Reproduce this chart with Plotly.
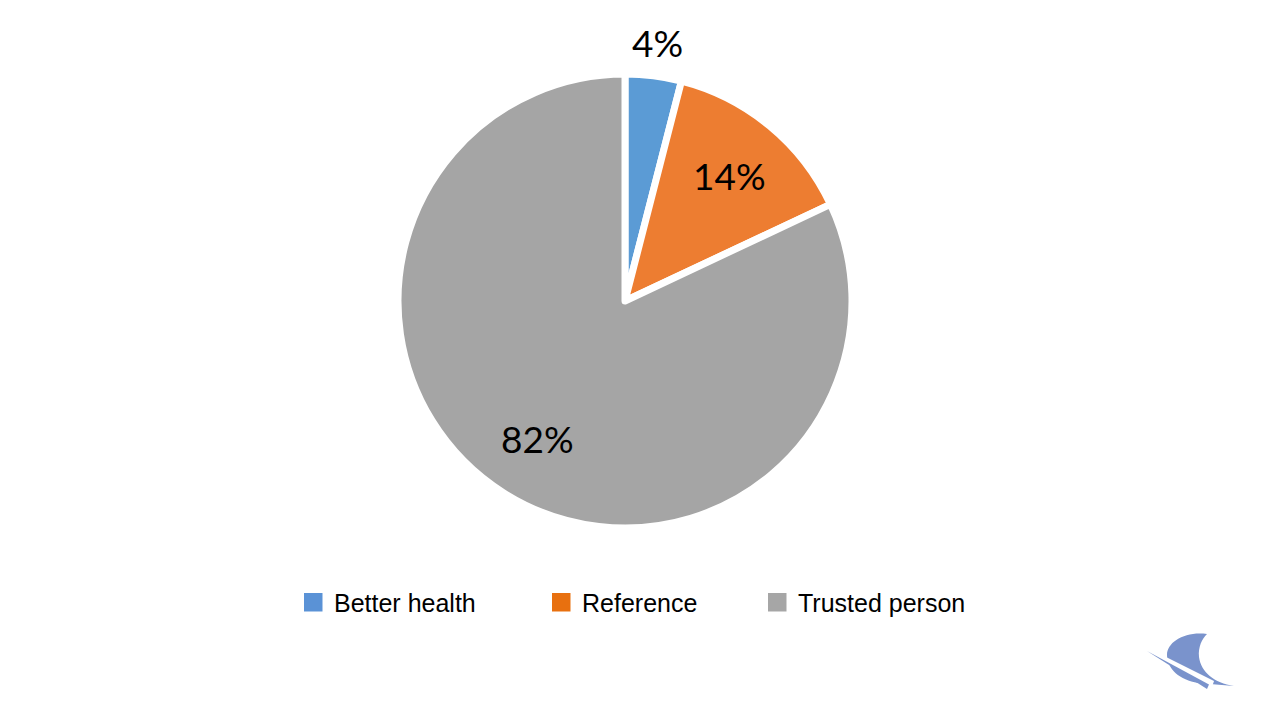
import math
import plotly.graph_objects as go

# ---- data ----
categories = ["Better health", "Reference", "Trusted person"]
values = [4, 14, 82]
slice_colors = ["#5B9BD5", "#ED7D31", "#A5A5A5"]
legend_colors = ["#5A92D6", "#E8700F", "#A6A6A6"]
label_inside = [False, True, True]

W, H = 1280, 720


def paper(x, y):
    return x / W, 1 - y / H


def path_from(cmds):
    out = []
    for c in cmds:
        if isinstance(c, str):
            out.append(c)
        else:
            px_, py_ = paper(*c)
            out.append(f"{px_:.5f},{py_:.5f}")
    return " ".join(out)


cx, cy, r = 625, 301, 227
fig = go.Figure(
    go.Pie(
        labels=categories,
        values=values,
        sort=False,
        direction="clockwise",
        rotation=0,
        marker=dict(colors=slice_colors, line=dict(color="white", width=7)),
        textinfo="none",
        domain=dict(x=[(cx - r) / W, (cx + r) / W],
                    y=[(H - cy - r) / H, (H - cy + r) / H]),
        showlegend=False,
        hoverinfo="label+percent",
    )
)

shapes = []
annotations = []

# percentage labels, placed at each slice's mid-angle
total = sum(values)
cum = 0.0
for v, inside in zip(values, label_inside):
    mid = (cum + v / 2) / total * 2 * math.pi
    cum += v
    rr = r * (0.72 if inside else 1.15)
    lx = cx + rr * math.sin(mid)
    ly = cy - rr * math.cos(mid)
    ax, ay = paper(lx, ly)
    annotations.append(dict(text=f"{round(100 * v / total)}%", xref="paper", yref="paper",
                            x=ax, y=ay, xanchor="center", yanchor="middle", showarrow=False,
                            font=dict(family="Lato", size=37, color="black")))

# custom legend
sq_x = [304, 552, 768]
for i, cat in enumerate(categories):
    x0, y0 = paper(sq_x[i], 593)
    x1, y1 = paper(sq_x[i] + 18.5, 611.5)
    shapes.append(dict(type="rect", xref="paper", yref="paper", x0=x0, x1=x1,
                       y0=y1, y1=y0, fillcolor=legend_colors[i], line=dict(width=0)))
    tx, ty = paper(sq_x[i] + 28, 603)
    annotations.append(dict(text=cat, xref="paper", yref="paper", x=tx, y=ty,
                            xanchor="left", yanchor="middle", showarrow=False,
                            font=dict(family="Liberation Sans", size=25, color="black")))

# logo
logo_col = "#7A93CC"
crescent = path_from(["M", (1207, 634), "C", (1185, 631), (1167, 642), (1167, 655),
                      "C", (1167, 669), (1180, 680), (1198, 683),
                      "L", (1234, 686),
                      "C", (1214, 683), (1201, 672), (1199, 657),
                      "C", (1198, 647), (1202, 639), (1207, 634), "Z"])
shapes.append(dict(type="path", xref="paper", yref="paper", path=crescent,
                   fillcolor=logo_col, line=dict(width=0)))
gap = path_from(["M", (1144, 646), "L", (1214, 681), "L", (1212, 687), "L", (1146, 652), "Z"])
shapes.append(dict(type="path", xref="paper", yref="paper", path=gap,
                   fillcolor="white", line=dict(width=0)))
wedge = path_from(["M", (1147, 651), "L", (1209, 684.5), "L", (1207, 689), "Z"])
shapes.append(dict(type="path", xref="paper", yref="paper", path=wedge,
                   fillcolor=logo_col, line=dict(width=0)))

fig.update_layout(
    width=W, height=H,
    margin=dict(l=0, r=0, t=0, b=0),
    paper_bgcolor="white", plot_bgcolor="white",
    shapes=shapes, annotations=annotations,
    showlegend=False,
)

fig.write_html("out.html", config={"displayModeBar": False},
               post_script="document.body.style.margin='0px';")
